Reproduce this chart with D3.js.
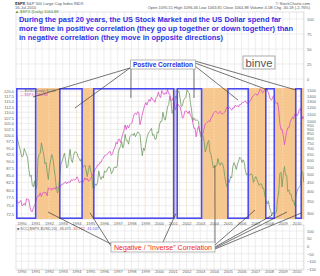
<!DOCTYPE html>
<html lang="en">
<head>
<meta charset="UTF-8">
<title>spx-usd</title>
<script src="https://cdn.jsdelivr.net/npm/d3@7"></script>
<style>
  body { margin: 0; background: #fff; }
  svg text { font-family: "Liberation Sans", Arial, sans-serif; }
</style>
</head>
<body>
<div id="container"></div>
<script>
// monthly closes, Aug 1989 .. Jul 2010
const spx = [
  351, 349, 340, 346, 353,
  329, 332, 340, 331, 361, 358, 356, 323, 306, 304, 322, 330,
  344, 367, 375, 375, 390, 371, 388, 395, 388, 392, 375, 417,
  409, 413, 404, 415, 415, 408, 424, 414, 418, 419, 431, 436,
  439, 443, 452, 440, 450, 451, 448, 464, 459, 468, 462, 466,
  482, 467, 446, 451, 457, 444, 458, 475, 463, 472, 454, 459,
  470, 487, 501, 515, 533, 545, 562, 562, 584, 582, 605, 616,
  636, 640, 646, 654, 669, 671, 640, 652, 687, 705, 757, 741,
  786, 791, 757, 801, 848, 885, 954, 899, 947, 915, 955, 970,
  980, 1049, 1102, 1112, 1091, 1134, 1121, 957, 1017, 1099, 1164, 1229,
  1280, 1238, 1286, 1335, 1302, 1373, 1329, 1320, 1283, 1363, 1389, 1469,
  1394, 1366, 1499, 1452, 1421, 1455, 1431, 1518, 1437, 1429, 1315, 1320,
  1366, 1240, 1160, 1249, 1256, 1224, 1211, 1134, 1041, 1060, 1139, 1148,
  1130, 1107, 1147, 1076, 1067, 990, 912, 916, 815, 886, 936, 880,
  856, 841, 848, 917, 964, 975, 990, 1008, 996, 1051, 1058, 1112,
  1131, 1145, 1126, 1107, 1121, 1141, 1102, 1104, 1115, 1130, 1174, 1212,
  1181, 1204, 1181, 1157, 1192, 1191, 1234, 1220, 1229, 1207, 1249, 1248,
  1280, 1281, 1295, 1311, 1270, 1270, 1277, 1304, 1336, 1378, 1401, 1418,
  1438, 1407, 1421, 1482, 1531, 1503, 1455, 1474, 1527, 1549, 1481, 1468,
  1379, 1331, 1323, 1386, 1400, 1280, 1267, 1283, 1166, 969, 896, 903,
  826, 735, 798, 873, 919, 919, 987, 1021, 1057, 1036, 1096, 1115,
  1074, 1104, 1169, 1187, 1089, 1031, 1065
];
const usd = [
  100.5, 98.7, 96.5, 95.0, 93.0,
  91.5, 92.0, 94.8, 93.5, 92.5, 91.0, 87.0, 84.5, 85.0, 81.5, 81.0, 83.0,
  80.0, 81.5, 91.0, 92.5, 93.0, 97.0, 94.5, 92.5, 89.0, 89.5, 86.0, 83.5,
  88.0, 90.5, 92.5, 91.0, 87.5, 84.5, 80.5, 79.0, 80.5, 85.0, 89.0, 90.0,
  91.5, 93.0, 90.5, 87.5, 88.0, 91.5, 94.5, 90.5, 89.5, 92.0, 93.5, 93.5,
  93.0, 91.5, 91.0, 90.0, 91.0, 88.0, 88.0, 88.5, 86.5, 84.5, 87.0, 88.5,
  86.5, 84.5, 80.5, 80.5, 82.0, 81.5, 82.5, 86.5, 84.5, 83.5, 84.5, 84.0,
  86.5, 86.0, 86.5, 87.5, 88.0, 87.5, 85.5, 86.0, 87.5, 88.0, 87.5, 88.0,
  93.0, 95.0, 95.5, 97.5, 95.0, 96.5, 100.5, 98.0, 98.0, 96.5, 99.5, 100.0,
  100.5, 100.0, 101.0, 99.5, 100.5, 101.5, 101.0, 100.5, 95.5, 92.0, 95.0, 94.0,
  96.5, 99.0, 100.5, 101.5, 102.0, 103.0, 100.0, 100.5, 98.5, 98.5, 101.5, 101.0,
  104.5, 106.0, 106.0, 110.0, 107.5, 106.5, 109.0, 112.5, 113.5, 117.5, 115.0, 109.5,
  111.0, 112.5, 117.5, 116.5, 119.5, 120.0, 116.5, 112.5, 113.0, 115.5, 116.5, 117.0,
  120.5, 119.5, 119.0, 114.5, 111.0, 106.0, 107.5, 106.5, 106.5, 106.5, 106.0, 102.0,
  99.5, 99.5, 100.0, 97.5, 93.5, 95.0, 97.0, 98.0, 93.5, 92.5, 90.0, 87.5,
  88.0, 88.0, 88.5, 91.0, 89.0, 88.5, 89.5, 89.0, 87.5, 84.5, 82.0, 81.0,
  83.5, 82.5, 84.5, 84.0, 88.0, 89.5, 88.5, 87.0, 89.0, 90.0, 91.5, 91.0,
  89.5, 90.5, 89.5, 86.5, 85.0, 85.5, 85.0, 85.0, 85.5, 85.0, 82.5, 83.5,
  84.5, 83.5, 82.5, 81.5, 82.0, 82.0, 80.5, 80.5, 78.0, 76.5, 75.5, 76.5,
  74.5, 73.5, 72.0, 73.0, 72.5, 72.5, 73.0, 77.0, 79.0, 85.5, 86.0, 81.0,
  85.5, 88.0, 85.0, 85.0, 79.5, 80.0, 78.5, 78.5, 76.5, 76.5, 75.0, 78.0,
  79.5, 80.5, 81.0, 81.5, 86.5, 86.0, 82.5
];
const firstMonth = new Date(1989, 7, 15);

// periods of positive (blue boxes) and negative (orange) correlation
const positivePeriods = [
  ["1989-08-08", "1991-02-03"], ["1992-09-24", "1994-06-20"], ["1995-03-15", "2001-02-17"],
  ["2001-04-08", "2003-02-28"], ["2004-12-15", "2006-07-20"], ["2007-09-17", "2008-06-10"],
  ["2009-11-20", "2010-05-27"]
];
const negativePeriods = [
  ["1991-02-03", "1992-09-24"], ["1994-06-20", "1995-03-15"], ["2001-02-17", "2001-04-08"],
  ["2003-02-28", "2004-12-15"], ["2006-07-20", "2007-09-17"], ["2008-06-10", "2009-11-20"],
  ["2010-05-27", "2010-07-19"]
];

const usdTicks = [72.5, 75, 77.5, 80, 82.5, 85, 87.5, 90, 92.5, 95, 97.5, 100, 102.5, 105,
  107.5, 110, 112.5, 115, 117.5, 120];
const spxTicks = [300, 350, 400, 450, 500, 550, 600, 650, 700, 750, 800, 850, 900, 950,
  1000, 1050, 1100, 1150, 1200, 1250, 1300, 1350, 1400, 1450, 1500, 1550];
const sccTicks = [100, 50, 0, -50, -100, -150];
const topTicks = [100, 75, 50, 25, 0];

// where the callout lines point: [date, spx level]
const positiveTargets = [["1990-11-01", 1377], ["1993-11-20", 1191], ["1997-12-15", 1359],
  ["2002-07-20", 1359], ["2005-10-01", 1323], ["2007-12-05", 1510], ["2009-12-17", 1510]];
const negativeTargets = [["1991-12-05", 303], ["1994-12-25", 300], ["2001-03-25", 297],
  ["2004-01-25", 562], ["2006-12-25", 311], ["2008-03-20", 290], ["2009-04-20", 303],
  ["2010-05-25", 300]];

const W = 320, H = 276;
const left = 16, right = 304;
const mainTop = 88, mainBot = 219;
const sccTop = 225, sccBot = 270;

const svg = d3.select("#container").append("svg")
  .attr("width", W).attr("height", H);

const parse = d3.timeParse("%Y-%m-%d");
const dates = spx.map((d, i) => d3.timeMonth.offset(firstMonth, i));
const x = d3.scaleTime()
  .domain([new Date(1989, 7, 8), new Date(2010, 6, 19)])
  .range([left, right]);
const ySpx = d3.scaleLog().domain([276.5, 1550]).range([mainBot, mainTop]);
const yUsd = d3.scaleLog().domain([71.0, 121.5]).range([mainBot, mainTop]);
const yScc = d3.scaleLinear().domain([-150, 100]).range([269, 231]);
const yTop = d3.scaleLinear().domain([0, 100]).range([79, 19]);

const halfYears = x.ticks(d3.timeMonth.every(6));
const years = x.ticks(d3.timeYear.every(1));

// keep only the spx labels that have room
let lastY = Infinity;
const spxShown = spxTicks.filter(v => {
  const y = ySpx(v);
  if (lastY - y >= 3.8) { lastY = y; return true; }
  return false;
});

// grid
const grid = svg.append("g").attr("stroke", "#e2e2e2").attr("stroke-width", 0.6);
grid.selectAll(".v").data(halfYears).join("line")
  .attr("x1", d => x(d)).attr("x2", d => x(d)).attr("y1", 12).attr("y2", mainBot);
grid.selectAll(".h").data(usdTicks).join("line")
  .attr("x1", left).attr("x2", right).attr("y1", d => yUsd(d)).attr("y2", d => yUsd(d));
grid.selectAll(".t").data(topTicks).join("line")
  .attr("x1", left).attr("x2", right).attr("y1", d => yTop(d)).attr("y2", d => yTop(d));
grid.selectAll(".v2").data(halfYears).join("line")
  .attr("x1", d => x(d)).attr("x2", d => x(d)).attr("y1", sccTop).attr("y2", sccBot);
grid.selectAll(".h2").data(sccTicks).join("line")
  .attr("x1", left).attr("x2", right).attr("y1", d => yScc(d)).attr("y2", d => yScc(d));

svg.append("rect").attr("x", left).attr("y", 12).attr("width", right - left).attr("height", mainBot - 12)
  .attr("fill", "none").attr("stroke", "#cfcfcf").attr("stroke-width", 0.6);
svg.append("rect").attr("x", left).attr("y", sccTop).attr("width", right - left).attr("height", sccBot - sccTop)
  .attr("fill", "none").attr("stroke", "#cfcfcf").attr("stroke-width", 0.6);

// negative correlation bands
svg.append("g").selectAll("rect").data(negativePeriods).join("rect")
  .attr("x", d => x(parse(d[0]))).attr("y", mainTop)
  .attr("width", d => x(parse(d[1])) - x(parse(d[0])))
  .attr("height", mainBot - mainTop)
  .attr("fill", "#f6c78f");

// year lines show through the orange
svg.append("g").selectAll("line").data(years).join("line")
  .attr("x1", d => x(d)).attr("x2", d => x(d)).attr("y1", mainTop).attr("y2", mainBot)
  .attr("stroke", "#fbe6b8").attr("stroke-width", 0.6).attr("stroke-dasharray", "2,1");

svg.append("clipPath").attr("id", "clip").append("rect")
  .attr("x", left).attr("y", mainTop).attr("width", right - left).attr("height", mainBot - mainTop);

const lineUsd = d3.line().x((d, i) => x(dates[i])).y(d => yUsd(d));
const lineSpx = d3.line().x((d, i) => x(dates[i])).y(d => ySpx(d));
svg.append("path").datum(usd).attr("d", lineUsd).attr("clip-path", "url(#clip)")
  .attr("fill", "none").attr("stroke", "#6f9a62").attr("stroke-width", 0.8);
svg.append("path").datum(spx).attr("d", lineSpx).attr("clip-path", "url(#clip)")
  .attr("fill", "none").attr("stroke", "#d94fc4").attr("stroke-width", 0.8);

// positive correlation boxes
svg.append("g").selectAll("rect").data(positivePeriods).join("rect")
  .attr("x", d => x(parse(d[0])) + 0.8).attr("y", mainTop + 0.8)
  .attr("width", d => x(parse(d[1])) - x(parse(d[0])) - 1.6)
  .attr("height", mainBot - mainTop - 1.6)
  .attr("fill", "none").attr("stroke", "#4b4bf0").attr("stroke-width", 1.6);

// axes
function styleAxis(g) {
  g.select(".domain").remove();
  g.selectAll("text").attr("font-size", 4).attr("fill", "#666");
}
svg.append("g").attr("transform", `translate(${left - 1},0)`)
  .call(d3.axisLeft(yUsd).tickValues(usdTicks).tickFormat(d3.format(".1f")).tickSize(0).tickPadding(1))
  .call(styleAxis);
svg.append("g").attr("transform", `translate(${right + 2},0)`)
  .call(d3.axisRight(ySpx).tickValues(spxShown).tickFormat(d3.format("d")).tickSize(0).tickPadding(1))
  .call(styleAxis);
svg.append("g").attr("transform", `translate(${right + 2},0)`)
  .call(d3.axisRight(yTop).tickValues(topTicks).tickSize(0).tickPadding(1))
  .call(styleAxis);
svg.append("g").attr("transform", `translate(${right + 2},0)`)
  .call(d3.axisRight(yScc).tickValues(sccTicks).tickSize(0).tickPadding(1))
  .call(styleAxis);
svg.append("g").attr("transform", `translate(0,${mainBot + 2})`)
  .call(d3.axisBottom(x).ticks(d3.timeYear.every(1)).tickFormat(d3.timeFormat("%Y")).tickSize(0).tickPadding(1))
  .call(styleAxis);
svg.append("g").attr("transform", `translate(0,${sccBot - 1})`)
  .call(d3.axisBottom(x).ticks(d3.timeYear.every(1)).tickFormat(d3.timeFormat("%Y")).tickSize(0).tickPadding(1))
  .call(styleAxis);

// header lines
const hdr = svg.append("g").attr("font-size", 4).attr("fill", "#555");
hdr.append("text").attr("x", 15).attr("y", 4.5)
  .html('<tspan font-weight="bold" fill="#222">$SPX</tspan> S&amp;P 500 Large Cap Index  INDX');
hdr.append("text").attr("x", 15).attr("y", 8.5).text("16-Jul-2010");
hdr.append("text").attr("x", 15).attr("y", 12.5).attr("fill", "#4a8a3a").text("▲ $SPX (Daily) 1064.88");
hdr.append("text").attr("x", 310).attr("y", 4.5).attr("text-anchor", "end").text("© StockCharts.com");
hdr.append("text").attr("x", 310).attr("y", 8.5).attr("text-anchor", "end")
  .text("Open 1095.51  High 1096.46  Low 1063.81  Close 1064.88  Volume 4.1B  Chg -30.18 (-2.76%)");

// main legend
svg.append("text").attr("x", 20).attr("y", 92).attr("font-size", 3.6).attr("fill", "#666")
  .text("— $USD (Daily) 82.59");
svg.append("text").attr("x", 20).attr("y", 96).attr("font-size", 3.6).attr("fill", "#d94fc4")
  .text("— $SPX 1064.88");

// SCC panel legend
svg.append("text").attr("x", 17).attr("y", 229.5).attr("font-size", 3.8).attr("fill", "#666")
  .html('■ SCC($SPX,$USD,20) -33.075  <tspan fill="#e05050">-30.762</tspan>  <tspan fill="#5a5af0">-31.507</tspan>');

// title
const titleLines = [
  ["During the past 20 years, the US Stock Market and the US Dollar spend far", 262],
  ["more time in positive correlation (they go up together or down together) than", 274],
  ["in negative correlation (they move in opposite directions)", 204]
];
svg.append("g").selectAll("text").data(titleLines).join("text")
  .attr("x", 19).attr("y", (d, i) => 21.5 + i * 9.2)
  .attr("font-size", 8).attr("font-weight", "bold").attr("fill", "#2f2fe6")
  .attr("textLength", d => d[1]).attr("lengthAdjust", "spacingAndGlyphs")
  .text(d => d[0]);

// callout lines
const calloutG = svg.append("g").attr("stroke", "#3a3a3a").attr("stroke-width", 0.7);
const posFrom = [[130, 68], [130, 68], [131, 69], [194, 69], [195, 66], [195, 63], [195, 61]];
calloutG.selectAll(".p").data(positiveTargets).join("line")
  .attr("x1", (d, i) => posFrom[i][0]).attr("y1", (d, i) => posFrom[i][1])
  .attr("x2", d => x(parse(d[0]))).attr("y2", d => ySpx(d[1]));
const negFrom = [[111, 244], [111, 246], [163, 242], [215, 243], [215, 245], [215, 247], [215, 248], [215, 249]];
calloutG.selectAll(".n").data(negativeTargets).join("line")
  .attr("x1", (d, i) => negFrom[i][0]).attr("y1", (d, i) => negFrom[i][1])
  .attr("x2", d => x(parse(d[0]))).attr("y2", d => ySpx(d[1]));

// labels
svg.append("rect").attr("x", 130.5).attr("y", 60).attr("width", 65).attr("height", 9)
  .attr("fill", "#fff").attr("stroke", "#999").attr("stroke-width", 0.7);
svg.append("text").attr("x", 163).attr("y", 67).attr("text-anchor", "middle")
  .attr("font-size", 7).attr("font-weight", "bold").attr("fill", "#2f2fe6")
  .attr("textLength", 60).attr("lengthAdjust", "spacingAndGlyphs")
  .text("Postive Correlation");

svg.append("rect").attr("x", 111).attr("y", 242).attr("width", 104).attr("height", 10)
  .attr("fill", "#fff").attr("stroke", "#999").attr("stroke-width", 0.7);
svg.append("text").attr("x", 163).attr("y", 249.8).attr("text-anchor", "middle")
  .attr("font-size", 7.5).attr("fill", "#f02a10")
  .attr("textLength", 98).attr("lengthAdjust", "spacingAndGlyphs")
  .text("Negative / \"Inverse\" Correlation");

svg.append("rect").attr("x", 243).attr("y", 56).attr("width", 32).attr("height", 13)
  .attr("fill", "#fff").attr("stroke", "#888").attr("stroke-width", 0.7);
svg.append("text").attr("x", 259).attr("y", 66.5).attr("text-anchor", "middle")
  .attr("font-size", 11).attr("fill", "#555")
  .attr("textLength", 27).attr("lengthAdjust", "spacingAndGlyphs")
  .text("binve");
</script>
</body>
</html>
